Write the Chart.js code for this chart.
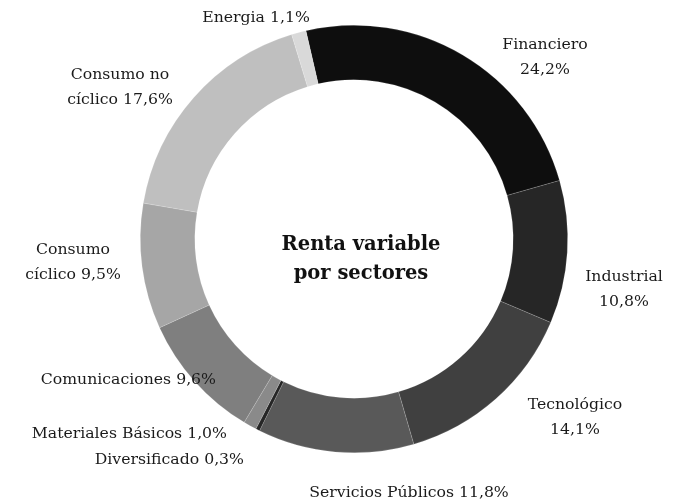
<!DOCTYPE html>
<html>
<head>
<meta charset="utf-8">
<script src="https://cdn.jsdelivr.net/npm/chart.js@4"></script>
<style>
  html, body { margin: 0; padding: 0; background: #fff; }
  #wrap { width: 683px; height: 504px; }
</style>
</head>
<body>
<div id="wrap"><canvas id="c" width="683" height="504"></canvas></div>
<script>
// ---- data ----
const sectors = ["Financiero", "Industrial", "Tecnológico", "Servicios Públicos", "Diversificado",
                 "Materiales Básicos", "Comunicaciones", "Consumo cíclico", "Consumo no cíclico", "Energia"];
const shares = [24.2, 10.8, 14.1, 11.8, 0.3, 1.0, 9.6, 9.5, 17.6, 1.1];
const labelLines = [
  ["Financiero", "24,2%"],
  ["Industrial", "10,8%"],
  ["Tecnológico", "14,1%"],
  ["Servicios Públicos 11,8%"],
  ["Diversificado 0,3%"],
  ["Materiales Básicos 1,0%"],
  ["Comunicaciones 9,6%"],
  ["Consumo", "cíclico 9,5%"],
  ["Consumo no", "cíclico 17,6%"],
  ["Energia 1,1%"]
];
const centerTitle = ["Renta variable", "por sectores"];

// ---- styling ----
const sliceColors = ["#0e0e0e", "#262626", "#404040", "#595959", "#262626",
                     "#8a8a8a", "#7f7f7f", "#a6a6a6", "#bfbfbf", "#d9d9d9"];
// label placement relative to chart centre (px), with text alignment
const labelLayout = [
  { dx: 191, dy: -194, align: "center" },
  { dx: 270, dy: 38, align: "center" },
  { dx: 221, dy: 166, align: "center" },
  { dx: 55, dy: 254, align: "center" },
  { dx: -110, dy: 221, align: "right" },
  { dx: -127, dy: 195, align: "right" },
  { dx: -138, dy: 141, align: "right" },
  { dx: -281, dy: 11, align: "center" },
  { dx: -234, dy: -164, align: "center" },
  { dx: -98, dy: -221, align: "center" }
];
const FONT = '"DejaVu Serif", serif';

const labelPlugin = {
  id: "sectorLabels",
  afterDatasetsDraw(chart) {
    const ctx = chart.ctx;
    const arc = chart.getDatasetMeta(0).data[0];
    const cx = arc.x, cy = arc.y;
    ctx.save();
    ctx.fillStyle = "#1a1a1a";
    ctx.font = "15.7px " + FONT;
    ctx.textBaseline = "middle";
    labelLines.forEach((lines, i) => {
      const L = labelLayout[i];
      ctx.textAlign = L.align;
      lines.forEach((t, k) => {
        ctx.fillText(t, cx + L.dx, cy + L.dy + k * 25);
      });
    });
    ctx.font = "bold 19.5px " + FONT;
    ctx.fillStyle = "#111";
    ctx.textAlign = "center";
    centerTitle.forEach((t, k) => {
      ctx.fillText(t, cx + 7, cy + 6 + k * 29);
    });
    ctx.restore();
  }
};

new Chart(document.getElementById("c"), {
  type: "doughnut",
  data: {
    labels: sectors,
    datasets: [{
      data: shares,
      backgroundColor: sliceColors,
      borderColor: "rgba(255,255,255,0.25)",
      borderWidth: 0.6,
      hoverOffset: 0
    }]
  },
  options: {
    responsive: false,
    animation: false,
    cutout: "74.5%",
    rotation: -13,
    layout: { padding: { left: 140, right: 115, top: 25, bottom: 51 } },
    plugins: { legend: { display: false }, tooltip: { enabled: false } }
  },
  plugins: [labelPlugin]
});
</script>
</body>
</html>
